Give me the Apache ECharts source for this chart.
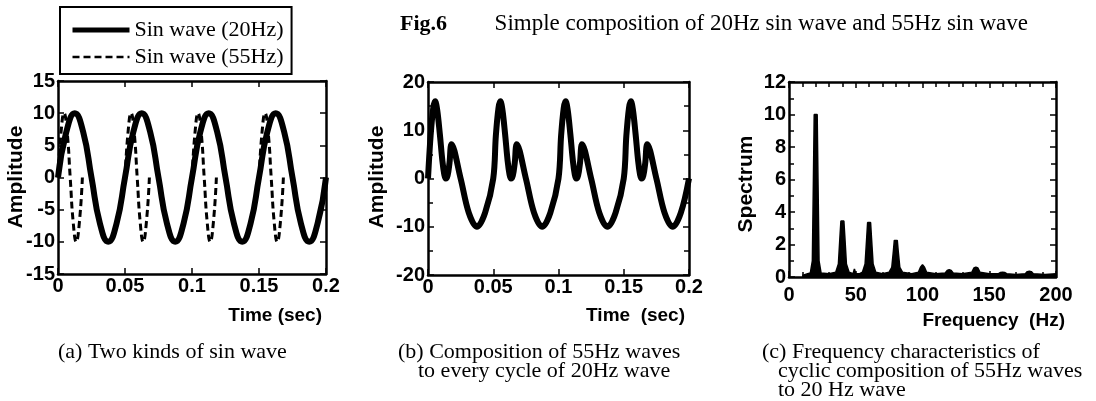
<!DOCTYPE html>
<html lang="en">
<head>
    <meta charset="UTF-8">
    <title>Fig.6</title>
    <script src="https://cdn.jsdelivr.net/npm/echarts@6.0.0/dist/echarts.min.js"></script>
    <style>
        body { margin: 0; background: #fff; }
        #echart { width: 1096px; height: 401px; }
    </style>
</head>
<body>
<div id="echart"></div>
<script>
    // (a) 20Hz sin wave, read every 1/8 period
    var timeA20 = [0, 0.00625, 0.0125, 0.01875, 0.025, 0.03125, 0.0375, 0.04375,
        0.05, 0.05625, 0.0625, 0.06875, 0.075, 0.08125, 0.0875, 0.09375,
        0.1, 0.10625, 0.1125, 0.11875, 0.125, 0.13125, 0.1375, 0.14375,
        0.15, 0.15625, 0.1625, 0.16875, 0.175, 0.18125, 0.1875, 0.19375, 0.2]
    var ampA20 = [0, 7.1, 10, 7.1, 0, -7.1, -10, -7.1,
        0, 7.1, 10, 7.1, 0, -7.1, -10, -7.1,
        0, 7.1, 10, 7.1, 0, -7.1, -10, -7.1,
        0, 7.1, 10, 7.1, 0, -7.1, -10, -7.1, 0]

    // (a) 55Hz sin wave, one cycle at the start of every 20Hz cycle ('-' = gap)
    var timeA55 = [0, 0.0023, 0.0045, 0.0068, 0.0091, 0.0114, 0.0136, 0.0159, 0.0182, 0.03,
        0.05, 0.0523, 0.0545, 0.0568, 0.0591, 0.0614, 0.0636, 0.0659, 0.0682, 0.08,
        0.1, 0.1023, 0.1045, 0.1068, 0.1091, 0.1114, 0.1136, 0.1159, 0.1182, 0.13,
        0.15, 0.1523, 0.1545, 0.1568, 0.1591, 0.1614, 0.1636, 0.1659, 0.1682]
    var ampA55 = [0, 7.1, 10, 7.1, 0, -7.1, -10, -7.1, 0, '-',
        0, 7.1, 10, 7.1, 0, -7.1, -10, -7.1, 0, '-',
        0, 7.1, 10, 7.1, 0, -7.1, -10, -7.1, 0, '-',
        0, 7.1, 10, 7.1, 0, -7.1, -10, -7.1, 0]

    // (b) composed wave
    var timeB = [0, 0.002, 0.004, 0.0055, 0.007, 0.009, 0.011, 0.0125, 0.0136, 0.015, 0.0165, 0.018, 0.025, 0.03125, 0.0375, 0.04375,
        0.05, 0.052, 0.054, 0.0555, 0.057, 0.059, 0.061, 0.0625, 0.0636, 0.065, 0.0665, 0.068, 0.075, 0.08125, 0.0875, 0.09375,
        0.1, 0.102, 0.104, 0.1055, 0.107, 0.109, 0.111, 0.1125, 0.1136, 0.115, 0.1165, 0.118, 0.125, 0.13125, 0.1375, 0.14375,
        0.15, 0.152, 0.154, 0.1555, 0.157, 0.159, 0.161, 0.1625, 0.1636, 0.165, 0.1665, 0.168, 0.175, 0.18125, 0.1875, 0.19375, 0.2]
    var ampB = [0, 8.9, 14.6, 16, 14.3, 9.4, 3.7, 0.8, 0, 0.6, 3.3, 7.1, 0, -7.1, -10, -7.1,
        0, 8.9, 14.6, 16, 14.3, 9.4, 3.7, 0.8, 0, 0.6, 3.3, 7.1, 0, -7.1, -10, -7.1,
        0, 8.9, 14.6, 16, 14.3, 9.4, 3.7, 0.8, 0, 0.6, 3.3, 7.1, 0, -7.1, -10, -7.1,
        0, 8.9, 14.6, 16, 14.3, 9.4, 3.7, 0.8, 0, 0.6, 3.3, 7.1, 0, -7.1, -10, -7.1, 0]

    // (c) spectrum
    var freqC = [10, 14, 16, 17.5, 18.3, 18.9, 21.1, 21.7, 22.5, 24, 30,
        35, 37, 38.2, 38.9, 41.1, 41.8, 43, 45, 48, 49, 50, 53,
        55, 57, 58.2, 58.9, 61.1, 61.8, 63, 65, 70,
        75, 77, 78.2, 78.9, 81.1, 81.8, 83, 85, 92,
        97, 98.5, 100, 101.5, 103, 110,
        117, 118.5, 120, 121.5, 123, 130,
        137, 138.5, 140, 141.5, 143, 150,
        157, 158.5, 160, 161.5, 163, 170,
        177, 178.5, 180, 181.5, 183, 192, 200]
    var specC = [0.1, 0.2, 0.25, 1, 6, 10, 10, 6, 1, 0.25, 0.2,
        0.3, 0.8, 2.5, 3.45, 3.45, 2.5, 0.8, 0.3, 0.2, 0.5, 0.2, 0.2,
        0.3, 0.8, 2.4, 3.35, 3.35, 2.4, 0.8, 0.3, 0.2,
        0.3, 0.6, 1.6, 2.25, 2.25, 1.6, 0.6, 0.3, 0.2,
        0.3, 0.6, 0.75, 0.6, 0.3, 0.2,
        0.25, 0.4, 0.45, 0.4, 0.25, 0.2,
        0.3, 0.55, 0.6, 0.55, 0.3, 0.2,
        0.2, 0.28, 0.3, 0.28, 0.2, 0.15,
        0.2, 0.33, 0.35, 0.33, 0.2, 0.15, 0.2]

    function pairs(xs, ys) {
        var out = []
        for (var i = 0; i < xs.length; i++) out.push([xs[i], ys[i]])
        return out
    }

    var sans = 'Liberation Sans'
    var serif = 'Liberation Serif'
    var tickFont = {fontFamily: sans, fontSize: 20, fontWeight: 'bold', color: '#000'}

    function xAx(grid, min, max, interval, minor, top, margin) {
        return {
            type: 'value', gridIndex: grid, min: min, max: max, interval: interval,
            position: top ? 'top' : 'bottom',
            axisLine: {show: true, onZero: false, lineStyle: {color: '#000', width: 2.5}},
            axisTick: {show: true, inside: true, length: 6, lineStyle: {color: '#000', width: 1.5}},
            minorTick: {show: minor > 0, splitNumber: minor || 5, length: 5, lineStyle: {color: '#000', width: 1.5}},
            axisLabel: Object.assign({show: !top, margin: margin || 2}, tickFont),
            splitLine: {show: false}
        }
    }

    function yAx(grid, min, max, interval, minor, right) {
        return {
            type: 'value', gridIndex: grid, min: min, max: max, interval: interval,
            position: right ? 'right' : 'left',
            axisLine: {show: true, onZero: false, lineStyle: {color: '#000', width: 2.5}},
            axisTick: {show: true, inside: true, length: 6, lineStyle: {color: '#000', width: 1.5}},
            minorTick: {show: minor > 0, splitNumber: minor || 5, length: 5, lineStyle: {color: '#000', width: 1.5}},
            axisLabel: Object.assign({show: !right, margin: 3}, tickFont),
            splitLine: {show: false}
        }
    }

    function label(text, x, y, opts) {
        return {
            type: 'text', x: x, y: y, rotation: opts.rot || 0,
            style: {
                text: text, fill: '#000',
                font: (opts.weight || 'normal') + ' ' + opts.size + 'px "' + opts.family + '"',
                align: opts.align || 'left', verticalAlign: 'middle'
            }
        }
    }

    var axName = {family: sans, size: 19, weight: 'bold'}
    var capFont = {family: serif, size: 22}

    var myChart = echarts.init(document.getElementById('echart'))
    myChart.setOption({
        animation: false,
        backgroundColor: '#fff',
        grid: [
            {left: 58, top: 81, width: 268, height: 193},
            {left: 428, top: 82, width: 261, height: 193},
            {left: 789, top: 82, width: 267, height: 195}
        ],
        xAxis: [
            xAx(0, 0, 0.2, 0.05, 0, false), xAx(0, 0, 0.2, 0.05, 0, true),
            xAx(1, 0, 0.2, 0.05, 0, false), xAx(1, 0, 0.2, 0.05, 0, true),
            xAx(2, 0, 200, 50, 5, false, 8), xAx(2, 0, 200, 50, 5, true)
        ],
        yAxis: [
            yAx(0, -15, 15, 5, 0, false), yAx(0, -15, 15, 5, 0, true),
            yAx(1, -20, 20, 10, 2, false), yAx(1, -20, 20, 10, 2, true),
            yAx(2, 0, 12, 2, 2, false), yAx(2, 0, 12, 2, 2, true)
        ],
        legend: {
            left: 60, top: 7, orient: 'vertical',
            data: [
                {name: 'Sin wave (20Hz)', lineStyle: {width: 5}},
                {name: 'Sin wave (55Hz)', lineStyle: {width: 2.5}}
            ],
            itemWidth: 57, itemHeight: 14, itemGap: 3,
            padding: [11, 8, 5, 10],
            borderColor: '#000', borderWidth: 2,
            itemStyle: {opacity: 0},
            textStyle: {fontFamily: serif, fontSize: 22, lineHeight: 24, color: '#000'}
        },
        series: [
            {
                name: 'Sin wave (20Hz)', type: 'line', xAxisIndex: 0, yAxisIndex: 0,
                data: pairs(timeA20, ampA20), smooth: 0.5, symbol: 'none', color: '#000',
                lineStyle: {color: '#000', width: 6}
            },
            {
                name: 'Sin wave (55Hz)', type: 'line', xAxisIndex: 0, yAxisIndex: 0,
                data: pairs(timeA55, ampA55), smooth: 0.5, symbol: 'none', color: '#000',
                lineStyle: {color: '#000', width: 3, type: [7, 4]}
            },
            {
                name: 'composition', type: 'line', xAxisIndex: 2, yAxisIndex: 2,
                data: pairs(timeB, ampB), smooth: 0.35, symbol: 'none', color: '#000',
                lineStyle: {color: '#000', width: 6}
            },
            {
                name: 'spectrum', type: 'line', xAxisIndex: 4, yAxisIndex: 4,
                data: pairs(freqC, specC), symbol: 'none', color: '#000',
                lineStyle: {color: '#000', width: 1.5},
                areaStyle: {color: '#000', opacity: 1}
            }
        ],
        graphic: [
            label('Fig.6', 400, 24, {family: serif, size: 22, weight: 'bold'}),
            label('Simple composition of 20Hz sin wave and 55Hz sin wave', 1028, 24, {family: serif, size: 23, align: 'right'}),
            label('Amplitude', 16, 177, {family: sans, size: 21, weight: 'bold', align: 'center', rot: Math.PI / 2}),
            label('Amplitude', 377, 177, {family: sans, size: 21, weight: 'bold', align: 'center', rot: Math.PI / 2}),
            label('Spectrum', 746, 184, {family: sans, size: 21, weight: 'bold', align: 'center', rot: Math.PI / 2}),
            label('Time (sec)', 322, 316, Object.assign({align: 'right'}, axName)),
            label('Time  (sec)', 685, 316, Object.assign({align: 'right'}, axName)),
            label('Frequency  (Hz)', 1065, 321, Object.assign({align: 'right'}, axName)),
            label('(a) Two kinds of sin wave', 58, 352, capFont),
            label('(b) Composition of 55Hz waves', 398, 352, capFont),
            label('to every cycle of 20Hz wave', 418, 371, capFont),
            label('(c) Frequency characteristics of', 762, 352, capFont),
            label('cyclic composition of 55Hz waves', 778, 371, capFont),
            label('to 20 Hz wave', 778, 390, capFont)
        ]
    })
</script>
</body>
</html>
